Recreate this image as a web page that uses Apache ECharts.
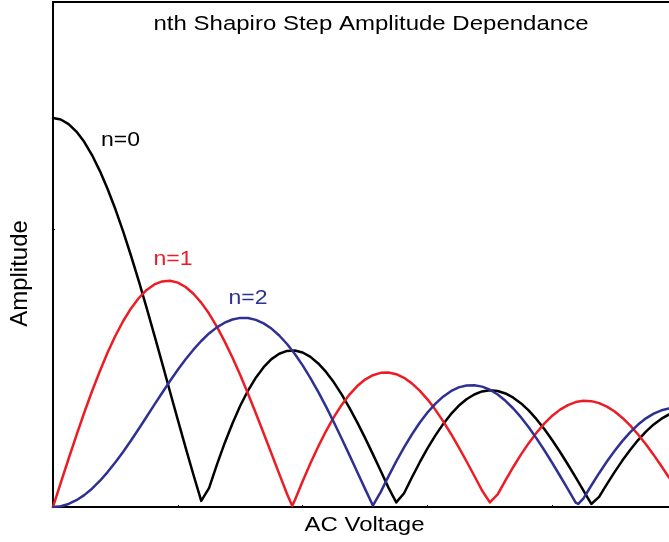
<!DOCTYPE html>
<html>
<head>
<meta charset="utf-8">
<script src="https://cdn.jsdelivr.net/npm/echarts@6/dist/echarts.min.js"></script>
<style>html,body{margin:0;padding:0;background:#fff;}#c{width:669px;height:542px;}</style>
</head>
<body>
<div id="c"></div>
<script>
// AC voltage (x) sample positions shared by all three curves
var voltage = [0, 0.125, 0.25, 0.375, 0.5, 0.625, 0.75, 0.875, 1, 1.125, 1.25, 1.375, 1.5, 1.625, 1.75, 1.875,
  2, 2.125, 2.25, 2.375, 2.5, 2.625, 2.75, 2.875, 3, 3.125, 3.25, 3.375, 3.5, 3.625, 3.75, 3.875,
  4, 4.125, 4.25, 4.375, 4.5, 4.625, 4.75, 4.875, 5, 5.125, 5.25, 5.375, 5.5, 5.625, 5.75, 5.875,
  6, 6.125, 6.25, 6.375, 6.5, 6.625, 6.75, 6.875, 7, 7.125, 7.25, 7.375, 7.5, 7.625, 7.75, 7.875,
  8, 8.125, 8.25, 8.375, 8.5, 8.625, 8.75, 8.875, 9, 9.125, 9.25, 9.375, 9.5, 9.625, 9.75, 9.87];
// amplitude of step n=0
var ampN0 = [1, 0.9960, 0.9842, 0.9650, 0.9385, 0.9046, 0.8640, 0.8174, 0.7652, 0.7077, 0.6458, 0.5803, 0.5118, 0.4411, 0.3690, 0.2963,
  0.2239, 0.1525, 0.0829, 0.0157, 0.0484, 0.1084, 0.1640, 0.2148, 0.2601, 0.2993, 0.3325, 0.3595, 0.3801, 0.3938, 0.4011, 0.4022,
  0.3971, 0.3858, 0.3690, 0.3471, 0.3205, 0.2896, 0.2550, 0.2175, 0.1776, 0.1359, 0.0931, 0.0498, 0.012, 0.0352, 0.0758, 0.1145,
  0.1506, 0.1835, 0.2129, 0.2386, 0.2601, 0.2769, 0.2892, 0.2970, 0.3001, 0.2982, 0.2918, 0.2811, 0.2663, 0.2475, 0.2251, 0.1997,
  0.1717, 0.1413, 0.1092, 0.0759, 0.0419, 0.0078, 0.0259, 0.0588, 0.0903, 0.1199, 0.1472, 0.1720, 0.1939, 0.2123, 0.2271, 0.2379];
// amplitude of step n=1
var ampN1 = [0, 0.0624, 0.1240, 0.1842, 0.2423, 0.2974, 0.3491, 0.3969, 0.4401, 0.4780, 0.5104, 0.5372, 0.5579, 0.5721, 0.5799, 0.5815,
  0.5767, 0.5654, 0.5481, 0.5253, 0.4971, 0.4637, 0.4258, 0.3841, 0.3391, 0.2912, 0.2411, 0.1896, 0.1374, 0.0851, 0.0333, 0.0173,
  0.0660, 0.1122, 0.1554, 0.1952, 0.2311, 0.2624, 0.2890, 0.3109, 0.3276, 0.3388, 0.3448, 0.3457, 0.3414, 0.3320, 0.3178, 0.2993,
  0.2767, 0.2503, 0.2206, 0.1883, 0.1538, 0.1176, 0.0803, 0.0425, 0.012, 0.0324, 0.0684, 0.1029, 0.1352, 0.1648, 0.1914, 0.2148,
  0.2346, 0.2503, 0.2620, 0.2697, 0.2731, 0.2721, 0.2670, 0.2581, 0.2453, 0.2288, 0.2090, 0.1864, 0.1613, 0.1339, 0.1048, 0.0758];
// amplitude of step n=2
var ampN2 = [0, 0.0020, 0.0078, 0.0174, 0.0306, 0.0471, 0.0669, 0.0898, 0.1149, 0.1421, 0.1708, 0.2011, 0.2321, 0.2630, 0.2937, 0.3240,
  0.3528, 0.3796, 0.4043, 0.4267, 0.4461, 0.4617, 0.4737, 0.4820, 0.4861, 0.4857, 0.4809, 0.4719, 0.4586, 0.4408, 0.4189, 0.3933,
  0.3641, 0.3314, 0.2959, 0.2579, 0.2178, 0.1761, 0.1333, 0.0900, 0.0466, 0.0037, 0.0383, 0.0788, 0.1173, 0.1532, 0.1863, 0.2164,
  0.2429, 0.2652, 0.2835, 0.2977, 0.3074, 0.3124, 0.3130, 0.3094, 0.3014, 0.2891, 0.2729, 0.2532, 0.2303, 0.2043, 0.1757, 0.1451,
  0.1130, 0.0797, 0.0457, 0.0115, 0.0223, 0.0553, 0.0869, 0.1170, 0.1448, 0.1700, 0.1924, 0.2118, 0.2279, 0.2401, 0.2486, 0.2533];
// extra points at the cusps (minima) of each curve
var cuspVoltN0 = [2.405, 8.654];
var cuspAmpN0 = [0.011, 0.006];
var cuspVoltN1 = [3.832];
var cuspAmpN1 = [0.003];
var cuspVoltN2 = [8.417];
var cuspAmpN2 = [0.008];

var seriesNames = ['n=0', 'n=1', 'n=2'];
var titleText = 'nth Shapiro Step Amplitude Dependance';
var xName = 'AC Voltage';
var yName = 'Amplitude';

function pairs(ys, cx, cy) {
  var p = voltage.map(function (v, i) { return [v, ys[i]]; });
  cx.forEach(function (v, i) { p.push([v, cy[i]]); });
  p.sort(function (a, b) { return a[0] - b[0]; });
  return p;
}

var chart = echarts.init(document.getElementById('c'), null, {renderer: 'canvas'});
var FONT = '"Liberation Sans", Arial, Helvetica, sans-serif';
var lineCol = '#000';
function mkSeries(name, data, color) {
  return {
    name: name, type: 'line', data: data, symbol: 'none', smooth: false,
    lineStyle: {color: color, width: 2.5, join: 'round', cap: 'round'}, animation: false, clip: true
  };
}
chart.setOption({
  animation: false,
  backgroundColor: '#fff',
  grid: {left: 53, right: 0, top: 2, bottom: 35},
  xAxis: [{
    type: 'value', min: 0, max: 9.87, interval: 2,
    axisLine: {show: true, onZero: false, lineStyle: {color: lineCol, width: 2}},
    axisTick: {show: true, inside: true, length: 2, lineStyle: {color: lineCol, width: 1}},
    axisLabel: {show: false}, splitLine: {show: false}
  }, {
    type: 'value', position: 'top', min: 0, max: 9.87,
    axisLine: {show: true, onZero: false, lineStyle: {color: lineCol, width: 2}},
    axisTick: {show: false}, axisLabel: {show: false}, splitLine: {show: false}
  }],
  yAxis: {
    type: 'value', min: 0, max: 1.298, interval: 0.715,
    axisLine: {show: true, onZero: false, lineStyle: {color: lineCol, width: 2}},
    axisTick: {show: true, inside: true, length: 2, lineStyle: {color: lineCol, width: 1}},
    axisLabel: {show: false}, splitLine: {show: false}
  },
  series: [
    mkSeries(seriesNames[0], pairs(ampN0, cuspVoltN0, cuspAmpN0), '#000000'),
    mkSeries(seriesNames[1], pairs(ampN1, cuspVoltN1, cuspAmpN1), '#ed1c24'),
    mkSeries(seriesNames[2], pairs(ampN2, cuspVoltN2, cuspAmpN2), '#2e3192')
  ],
  graphic: [
    {type: 'text', x: 371, y: 24.3, scaleY: 0.86, style: {text: titleText, font: '24px ' + FONT, fill: '#000', textAlign: 'center', textVerticalAlign: 'middle'}},
    {type: 'text', x: 364.5, y: 525.3, scaleY: 0.87, style: {text: xName, font: '24px ' + FONT, fill: '#000', textAlign: 'center', textVerticalAlign: 'middle'}},
    {type: 'text', x: 20.4, y: 273.5, rotation: Math.PI / 2, style: {text: yName, font: '24px ' + FONT, fill: '#000', textAlign: 'center', textVerticalAlign: 'middle'}},
    {type: 'text', x: 120.5, y: 140.5, scaleY: 0.87, style: {text: seriesNames[0], font: '23px ' + FONT, fill: '#000000', textAlign: 'center', textVerticalAlign: 'middle'}},
    {type: 'text', x: 173, y: 259.8, scaleY: 0.87, style: {text: seriesNames[1], font: '23px ' + FONT, fill: '#ed1c24', textAlign: 'center', textVerticalAlign: 'middle'}},
    {type: 'text', x: 248, y: 298.5, scaleY: 0.87, style: {text: seriesNames[2], font: '23px ' + FONT, fill: '#2e3192', textAlign: 'center', textVerticalAlign: 'middle'}}
  ]
});
</script>
</body>
</html>
